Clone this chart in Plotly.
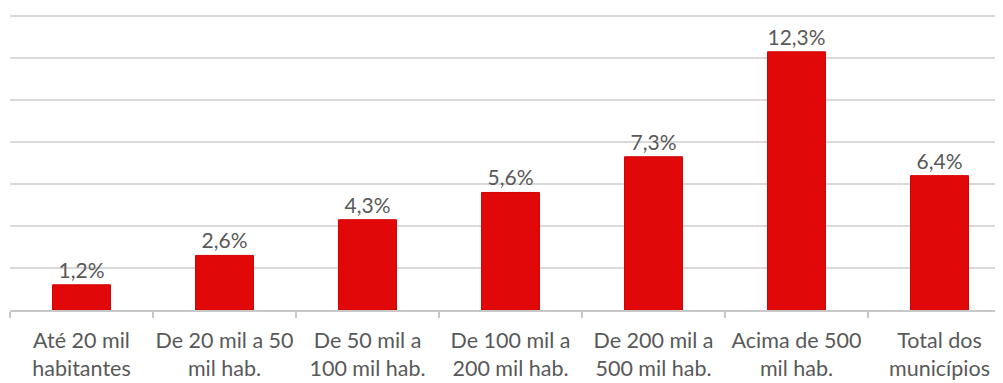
import plotly.graph_objects as go

categories = [
    "Até 20 mil<br>habitantes",
    "De 20 mil a 50<br>mil hab.",
    "De 50 mil a<br>100 mil hab.",
    "De 100 mil a<br>200 mil hab.",
    "De 200 mil a<br>500 mil hab.",
    "Acima de 500<br>mil hab.",
    "Total dos<br>municípios",
]
values = [1.2, 2.6, 4.3, 5.6, 7.3, 12.3, 6.4]
labels = [f"{v:.1f}%".replace(".", ",") for v in values]

FONT = "Lato, sans-serif"

fig = go.Figure(go.Bar(
    x=categories,
    y=values,
    text=labels,
    textposition="outside",
    cliponaxis=False,
    textfont=dict(family=FONT, size=21, color="#595959"),
    marker=dict(color="#e00808", line=dict(color="#d40000", width=1)),
    width=0.405,
))

# page body has an 8px default margin, so the figure is offset by 8px
fig.update_layout(
    width=1003, height=383,
    margin=dict(l=2, r=0, t=6, b=81, autoexpand=False),
    paper_bgcolor="white", plot_bgcolor="white",
    showlegend=False,
)
fig.update_xaxes(
    range=[-0.5, 6.5], automargin=False, tickangle=0,
    showline=True, linecolor="#c8c8c8", linewidth=1.5,
    ticks="outside", tickson="boundaries", ticklen=6, tickcolor="#c8c8c8", tickwidth=1.5,
    ticklabelstandoff=10,
    tickfont=dict(family=FONT, size=21.5, color="#595959"),
    showgrid=False,
)
fig.update_yaxes(
    range=[0, 14.1], dtick=2, automargin=False,
    showgrid=True, gridcolor="#d9d9d9", gridwidth=1.5,
    showticklabels=False, zeroline=False,
)

fig.write_html("out.html")
